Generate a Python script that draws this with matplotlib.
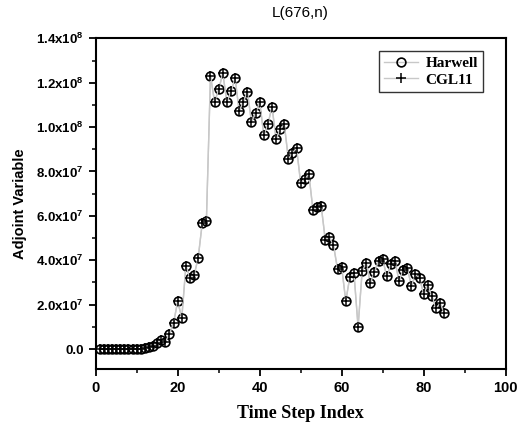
import matplotlib
matplotlib.use('Agg')
import matplotlib.pyplot as plt
from matplotlib.ticker import MultipleLocator, FuncFormatter

# Adjoint variable L(676,n) per time step, values in units of 1e7
steps = list(range(1, 86))
harwell = [0, 0, 0, 0, 0, 0, 0, 0, 0, 0,
           0.01, 0.03, 0.07, 0.14, 0.27, 0.40, 0.33, 0.68, 1.18, 2.15,
           1.40, 3.75, 3.20, 3.32, 4.11, 5.69, 5.78, 12.31, 11.13, 11.70,
           12.42, 11.13, 11.61, 12.20, 10.72, 11.13, 11.60, 10.23, 10.63, 11.13,
           9.64, 10.12, 10.92, 9.47, 9.90, 10.12, 8.56, 8.84, 9.05, 7.47,
           7.68, 7.88, 6.25, 6.38, 6.46, 4.91, 5.04, 4.68, 3.59, 3.68,
           2.16, 3.26, 3.41, 1.00, 3.53, 3.86, 2.96, 3.48, 3.98, 4.04,
           3.27, 3.81, 3.96, 3.06, 3.56, 3.66, 2.84, 3.36, 3.18, 2.48,
           2.88, 2.39, 1.83, 2.06, 1.64]
cgl11 = list(harwell)
harwell = [v * 1e7 for v in harwell]
cgl11 = [v * 1e7 for v in cgl11]

plt.rcParams['font.family'] = ['Liberation Sans', 'DejaVu Sans']
plt.rcParams['mathtext.fontset'] = 'custom'
plt.rcParams['mathtext.rm'] = 'Liberation Sans:bold'
plt.rcParams['mathtext.default'] = 'rm'

fig = plt.figure(figsize=(5.17, 4.30), dpi=100)
ax = fig.add_axes([0.1851, 0.1419, 0.793, 0.769])

ax.plot(steps, harwell, color='#c8c8c8', linewidth=1, marker='o', markersize=6.3,
        markerfacecolor='none', markeredgecolor='black', markeredgewidth=1.2,
        label='Harwell', zorder=3)
ax.plot(steps, cgl11, color='#c8c8c8', linewidth=1, marker='+', markersize=7,
        markeredgecolor='black', markeredgewidth=1.1, label='CGL11', zorder=4)

ax.set_xlim(0, 100)
ax.set_ylim(-0.9e7, 1.4e8)
ax.xaxis.set_major_locator(MultipleLocator(20))
ax.xaxis.set_minor_locator(MultipleLocator(10))
ax.yaxis.set_major_locator(MultipleLocator(2e7))
ax.yaxis.set_minor_locator(MultipleLocator(1e7))


def sci(v, pos):
    if abs(v) < 1:
        return '0.0'
    exp = 7 if v < 1e8 - 1 else 8
    return '%.1fx10$^{%d}$' % (v / 10 ** exp, exp)


ax.yaxis.set_major_formatter(FuncFormatter(sci))

for s in ax.spines.values():
    s.set_linewidth(1.5)
ax.tick_params(which='major', direction='out', length=5, width=1.3, labelsize=9.5)
ax.tick_params(which='minor', direction='out', length=3, width=1.1)
ax.tick_params(top=False, right=False, which='both')
for lab in ax.get_xticklabels() + ax.get_yticklabels():
    lab.set_fontweight('bold')
ax.tick_params(axis='x', labelsize=10.5)

ax.set_title('L(676,n)', fontsize=11, pad=15)
ax.set_xlabel('Time Step Index', fontsize=13, fontweight='bold',
              family='Liberation Serif', labelpad=7)
ax.set_ylabel('Adjoint Variable', fontsize=10.5, fontweight='bold', labelpad=7)

leg = ax.legend(loc='upper right', bbox_to_anchor=(0.945, 0.962), borderaxespad=0,
                fancybox=False, edgecolor='black', handlelength=2.2,
                prop={'family': 'Liberation Serif', 'weight': 'bold', 'size': 11},
                borderpad=0.35, labelspacing=0.2, handletextpad=0.5)
leg.get_frame().set_linewidth(1.0)

plt.savefig('out.png', dpi=100)
